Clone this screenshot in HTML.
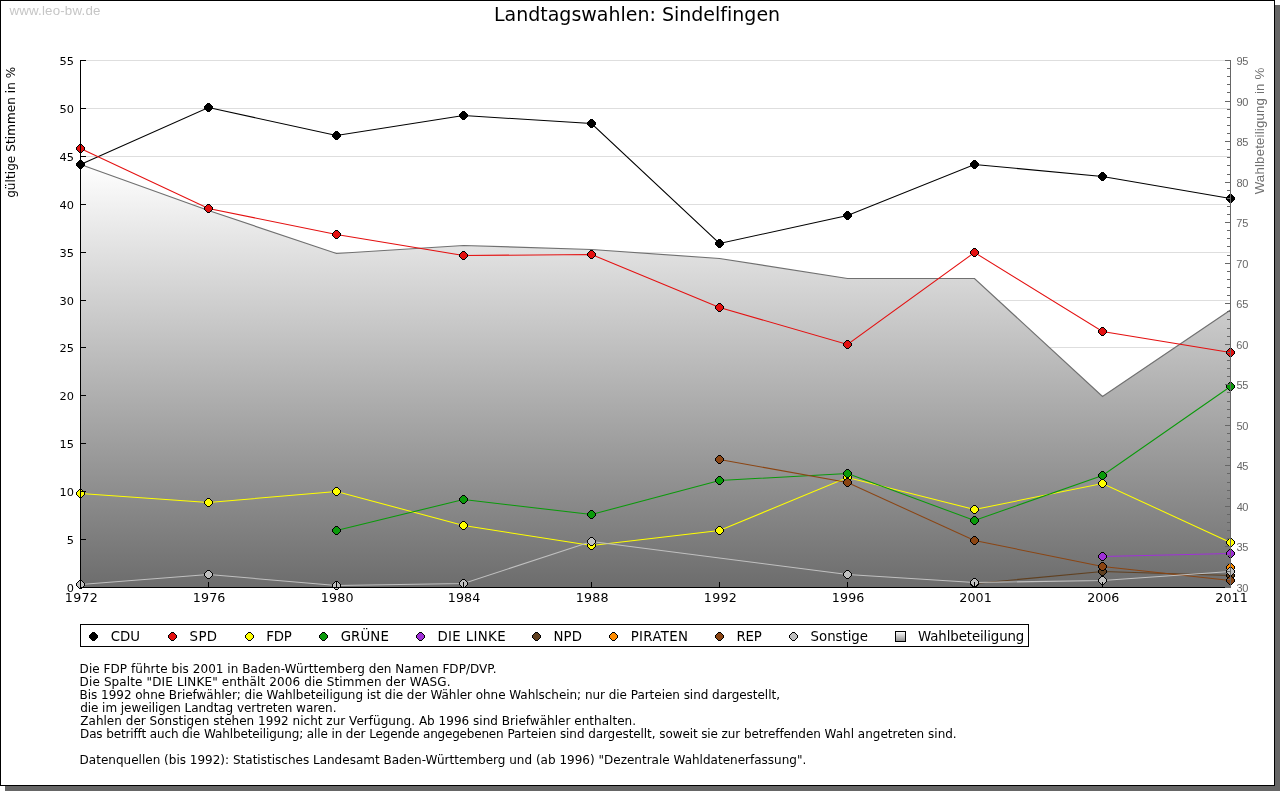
<!DOCTYPE html>
<html lang="de"><head><meta charset="utf-8"><title>Landtagswahlen: Sindelfingen</title>
<style>html,body{margin:0;padding:0;background:#fff;overflow:hidden}svg{display:block}text{font-family:"DejaVu Sans","Liberation Sans",sans-serif;font-variant-ligatures:none}text.l{font-family:"Liberation Sans","DejaVu Sans",sans-serif}</style></head><body>
<svg width="1280" height="791" viewBox="0 0 1280 791">
<defs><linearGradient id="g" gradientUnits="userSpaceOnUse" x1="0" y1="164" x2="0" y2="588"><stop offset="0" stop-color="#ffffff"/><stop offset="1" stop-color="#6c6c6c"/></linearGradient>
<linearGradient id="g2" x1="0" y1="0" x2="0" y2="1"><stop offset="0" stop-color="#ffffff"/><stop offset="1" stop-color="#8c8c8c"/></linearGradient>
<path id="mo" d="M-1.5-4.5h3v1h1v1h1v1h1v3h-1v1h-1v1h-1v1h-3v-1h-1v-1h-1v-1h-1v-3h1v-1h1v-1h1z"/><path id="mi" d="M-1.5-3.5h3v1h1v1h1v3h-1v1h-1v1h-3v-1h-1v-1h-1v-3h1v-1h1z"/></defs>
<rect x="0" y="0" width="1280" height="791" fill="#fff"/>
<rect x="5" y="5" width="1275" height="786" fill="#666"/>
<rect x="0.5" y="0.5" width="1274" height="785" fill="#fff" stroke="#000" stroke-width="1"/>
<text class="l" x="9.42" y="15.3" font-size="13.33" fill="#c6c6c6" textLength="90.97" lengthAdjust="spacing">www.leo-bw.de</text>
<text x="493.94" y="20.5" font-size="19" fill="#000" textLength="286.18" lengthAdjust="spacing">Landtagswahlen: Sindelfingen</text>
<line x1="80" y1="539.5" x2="1231" y2="539.5" stroke="#dedede" stroke-width="1"/>
<line x1="80" y1="491.5" x2="1231" y2="491.5" stroke="#dedede" stroke-width="1"/>
<line x1="80" y1="443.5" x2="1231" y2="443.5" stroke="#dedede" stroke-width="1"/>
<line x1="80" y1="395.5" x2="1231" y2="395.5" stroke="#dedede" stroke-width="1"/>
<line x1="80" y1="347.5" x2="1231" y2="347.5" stroke="#dedede" stroke-width="1"/>
<line x1="80" y1="300.5" x2="1231" y2="300.5" stroke="#dedede" stroke-width="1"/>
<line x1="80" y1="252.5" x2="1231" y2="252.5" stroke="#dedede" stroke-width="1"/>
<line x1="80" y1="204.5" x2="1231" y2="204.5" stroke="#dedede" stroke-width="1"/>
<line x1="80" y1="156.5" x2="1231" y2="156.5" stroke="#dedede" stroke-width="1"/>
<line x1="80" y1="108.5" x2="1231" y2="108.5" stroke="#dedede" stroke-width="1"/>
<line x1="80" y1="60.5" x2="1231" y2="60.5" stroke="#dedede" stroke-width="1"/>
<polygon points="80.5,587.5 80.5,164.5 208.5,210.5 336.5,253.5 463.5,245.5 591.5,249.5 719.5,258.5 847.5,278.5 974.5,278.5 1102.5,396.5 1230.5,310.0 1230.5,587.5" fill="url(#g)"/>
<polyline points="80.5,164.5 208.5,210.5 336.5,253.5 463.5,245.5 591.5,249.5 719.5,258.5 847.5,278.5 974.5,278.5 1102.5,396.5 1230.5,310.0" fill="none" stroke="#707070" stroke-width="1.2"/>
<polyline points="80.5,164.5 208.5,107.5 336.5,135.5 463.5,115.5 591.5,123.5 719.5,243.5 847.5,215.5 974.5,164.5 1102.5,176.5 1230.5,198.5" fill="none" stroke="#000000" stroke-width="1.05"/>
<use href="#mo" x="80.5" y="164.5" fill="#000"/>
<use href="#mo" x="208.5" y="107.5" fill="#000"/>
<use href="#mo" x="336.5" y="135.5" fill="#000"/>
<use href="#mo" x="463.5" y="115.5" fill="#000"/>
<use href="#mo" x="591.5" y="123.5" fill="#000"/>
<use href="#mo" x="719.5" y="243.5" fill="#000"/>
<use href="#mo" x="847.5" y="215.5" fill="#000"/>
<use href="#mo" x="974.5" y="164.5" fill="#000"/>
<use href="#mo" x="1102.5" y="176.5" fill="#000"/>
<use href="#mo" x="1230.5" y="198.5" fill="#000"/>
<polyline points="80.5,148.5 208.5,208.5 336.5,234.5 463.5,255.5 591.5,254.5 719.5,307.5 847.5,344.5 974.5,252.5 1102.5,331.5 1230.5,352.5" fill="none" stroke="#e41010" stroke-width="1.05"/>
<use href="#mo" x="80.5" y="148.5" fill="#000"/><use href="#mi" x="80.5" y="148.5" fill="#e41010"/>
<use href="#mo" x="208.5" y="208.5" fill="#000"/><use href="#mi" x="208.5" y="208.5" fill="#e41010"/>
<use href="#mo" x="336.5" y="234.5" fill="#000"/><use href="#mi" x="336.5" y="234.5" fill="#e41010"/>
<use href="#mo" x="463.5" y="255.5" fill="#000"/><use href="#mi" x="463.5" y="255.5" fill="#e41010"/>
<use href="#mo" x="591.5" y="254.5" fill="#000"/><use href="#mi" x="591.5" y="254.5" fill="#e41010"/>
<use href="#mo" x="719.5" y="307.5" fill="#000"/><use href="#mi" x="719.5" y="307.5" fill="#e41010"/>
<use href="#mo" x="847.5" y="344.5" fill="#000"/><use href="#mi" x="847.5" y="344.5" fill="#e41010"/>
<use href="#mo" x="974.5" y="252.5" fill="#000"/><use href="#mi" x="974.5" y="252.5" fill="#e41010"/>
<use href="#mo" x="1102.5" y="331.5" fill="#000"/><use href="#mi" x="1102.5" y="331.5" fill="#e41010"/>
<use href="#mo" x="1230.5" y="352.5" fill="#000"/><use href="#mi" x="1230.5" y="352.5" fill="#e41010"/>
<polyline points="80.5,493.5 208.5,502.5 336.5,491.5 463.5,525.5 591.5,545.5 719.5,530.5 847.5,477.5 974.5,509.5 1102.5,483.5 1230.5,542.5" fill="none" stroke="#ffff00" stroke-width="1.05"/>
<use href="#mo" x="80.5" y="493.5" fill="#000"/><use href="#mi" x="80.5" y="493.5" fill="#ffff00"/>
<use href="#mo" x="208.5" y="502.5" fill="#000"/><use href="#mi" x="208.5" y="502.5" fill="#ffff00"/>
<use href="#mo" x="336.5" y="491.5" fill="#000"/><use href="#mi" x="336.5" y="491.5" fill="#ffff00"/>
<use href="#mo" x="463.5" y="525.5" fill="#000"/><use href="#mi" x="463.5" y="525.5" fill="#ffff00"/>
<use href="#mo" x="591.5" y="545.5" fill="#000"/><use href="#mi" x="591.5" y="545.5" fill="#ffff00"/>
<use href="#mo" x="719.5" y="530.5" fill="#000"/><use href="#mi" x="719.5" y="530.5" fill="#ffff00"/>
<use href="#mo" x="847.5" y="477.5" fill="#000"/><use href="#mi" x="847.5" y="477.5" fill="#ffff00"/>
<use href="#mo" x="974.5" y="509.5" fill="#000"/><use href="#mi" x="974.5" y="509.5" fill="#ffff00"/>
<use href="#mo" x="1102.5" y="483.5" fill="#000"/><use href="#mi" x="1102.5" y="483.5" fill="#ffff00"/>
<use href="#mo" x="1230.5" y="542.5" fill="#000"/><use href="#mi" x="1230.5" y="542.5" fill="#ffff00"/>
<polyline points="336.5,530.5 463.5,499.5 591.5,514.5 719.5,480.5 847.5,473.5 974.5,520.5 1102.5,475.5 1230.5,386.5" fill="none" stroke="#0a9a0a" stroke-width="1.05"/>
<use href="#mo" x="336.5" y="530.5" fill="#000"/><use href="#mi" x="336.5" y="530.5" fill="#0a9a0a"/>
<use href="#mo" x="463.5" y="499.5" fill="#000"/><use href="#mi" x="463.5" y="499.5" fill="#0a9a0a"/>
<use href="#mo" x="591.5" y="514.5" fill="#000"/><use href="#mi" x="591.5" y="514.5" fill="#0a9a0a"/>
<use href="#mo" x="719.5" y="480.5" fill="#000"/><use href="#mi" x="719.5" y="480.5" fill="#0a9a0a"/>
<use href="#mo" x="847.5" y="473.5" fill="#000"/><use href="#mi" x="847.5" y="473.5" fill="#0a9a0a"/>
<use href="#mo" x="974.5" y="520.5" fill="#000"/><use href="#mi" x="974.5" y="520.5" fill="#0a9a0a"/>
<use href="#mo" x="1102.5" y="475.5" fill="#000"/><use href="#mi" x="1102.5" y="475.5" fill="#0a9a0a"/>
<use href="#mo" x="1230.5" y="386.5" fill="#000"/><use href="#mi" x="1230.5" y="386.5" fill="#0a9a0a"/>
<polyline points="1102.5,556.5 1230.5,553.5" fill="none" stroke="#a030d8" stroke-width="1.05"/>
<use href="#mo" x="1102.5" y="556.5" fill="#000"/><use href="#mi" x="1102.5" y="556.5" fill="#a030d8"/>
<use href="#mo" x="1230.5" y="553.5" fill="#000"/><use href="#mi" x="1230.5" y="553.5" fill="#a030d8"/>
<polyline points="974.5,583.5 1102.5,571.5 1230.5,575.5" fill="none" stroke="#604020" stroke-width="1.05"/>
<use href="#mo" x="974.5" y="583.5" fill="#000"/><use href="#mi" x="974.5" y="583.5" fill="#604020"/>
<use href="#mo" x="1102.5" y="571.5" fill="#000"/><use href="#mi" x="1102.5" y="571.5" fill="#604020"/>
<use href="#mo" x="1230.5" y="575.5" fill="#000"/><use href="#mi" x="1230.5" y="575.5" fill="#604020"/>
<use href="#mo" x="1230.5" y="567.5" fill="#000"/><use href="#mi" x="1230.5" y="567.5" fill="#ff8c00"/>
<polyline points="719.5,459.5 847.5,482.5 974.5,540.5 1102.5,566.5 1230.5,580.5" fill="none" stroke="#8b4513" stroke-width="1.05"/>
<use href="#mo" x="719.5" y="459.5" fill="#000"/><use href="#mi" x="719.5" y="459.5" fill="#8b4513"/>
<use href="#mo" x="847.5" y="482.5" fill="#000"/><use href="#mi" x="847.5" y="482.5" fill="#8b4513"/>
<use href="#mo" x="974.5" y="540.5" fill="#000"/><use href="#mi" x="974.5" y="540.5" fill="#8b4513"/>
<use href="#mo" x="1102.5" y="566.5" fill="#000"/><use href="#mi" x="1102.5" y="566.5" fill="#8b4513"/>
<use href="#mo" x="1230.5" y="580.5" fill="#000"/><use href="#mi" x="1230.5" y="580.5" fill="#8b4513"/>
<polyline points="80.5,584.5 208.5,574.5 336.5,585.5 463.5,583.5 591.5,541.5 847.5,574.5 974.5,582.5 1102.5,580.5 1230.5,571.5" fill="none" stroke="#c0c0c0" stroke-width="1.05"/>
<use href="#mo" x="80.5" y="584.5" fill="#000"/><use href="#mi" x="80.5" y="584.5" fill="#c0c0c0"/>
<use href="#mo" x="208.5" y="574.5" fill="#000"/><use href="#mi" x="208.5" y="574.5" fill="#c0c0c0"/>
<use href="#mo" x="336.5" y="585.5" fill="#000"/><use href="#mi" x="336.5" y="585.5" fill="#c0c0c0"/>
<use href="#mo" x="463.5" y="583.5" fill="#000"/><use href="#mi" x="463.5" y="583.5" fill="#c0c0c0"/>
<use href="#mo" x="591.5" y="541.5" fill="#000"/><use href="#mi" x="591.5" y="541.5" fill="#c0c0c0"/>
<use href="#mo" x="847.5" y="574.5" fill="#000"/><use href="#mi" x="847.5" y="574.5" fill="#c0c0c0"/>
<use href="#mo" x="974.5" y="582.5" fill="#000"/><use href="#mi" x="974.5" y="582.5" fill="#c0c0c0"/>
<use href="#mo" x="1102.5" y="580.5" fill="#000"/><use href="#mi" x="1102.5" y="580.5" fill="#c0c0c0"/>
<use href="#mo" x="1230.5" y="571.5" fill="#000"/><use href="#mi" x="1230.5" y="571.5" fill="#c0c0c0"/>
<line x1="80.5" y1="582" x2="80.5" y2="588" stroke="#000" stroke-width="1"/>
<line x1="208.5" y1="582" x2="208.5" y2="588" stroke="#000" stroke-width="1"/>
<line x1="336.5" y1="582" x2="336.5" y2="588" stroke="#000" stroke-width="1"/>
<line x1="463.5" y1="582" x2="463.5" y2="588" stroke="#000" stroke-width="1"/>
<line x1="591.5" y1="582" x2="591.5" y2="588" stroke="#000" stroke-width="1"/>
<line x1="719.5" y1="582" x2="719.5" y2="588" stroke="#000" stroke-width="1"/>
<line x1="847.5" y1="582" x2="847.5" y2="588" stroke="#000" stroke-width="1"/>
<line x1="974.5" y1="582" x2="974.5" y2="588" stroke="#000" stroke-width="1"/>
<line x1="1102.5" y1="582" x2="1102.5" y2="588" stroke="#000" stroke-width="1"/>
<line x1="1230.5" y1="582" x2="1230.5" y2="588" stroke="#000" stroke-width="1"/>
<line x1="80.5" y1="60" x2="80.5" y2="588" stroke="#000" stroke-width="1"/>
<line x1="80" y1="587.5" x2="1231" y2="587.5" stroke="#000" stroke-width="1"/>
<line x1="1230.5" y1="60" x2="1230.5" y2="588" stroke="#666" stroke-width="1"/>
<line x1="80" y1="587.5" x2="86" y2="587.5" stroke="#000" stroke-width="1"/>
<text x="74" y="592.1" font-size="11.33" text-anchor="end" fill="#000">0</text>
<line x1="80" y1="539.5" x2="86" y2="539.5" stroke="#000" stroke-width="1"/>
<text x="74" y="544.1" font-size="11.33" text-anchor="end" fill="#000">5</text>
<line x1="80" y1="491.5" x2="86" y2="491.5" stroke="#000" stroke-width="1"/>
<text x="74" y="496.1" font-size="11.33" text-anchor="end" fill="#000">10</text>
<line x1="80" y1="443.5" x2="86" y2="443.5" stroke="#000" stroke-width="1"/>
<text x="74" y="448.1" font-size="11.33" text-anchor="end" fill="#000">15</text>
<line x1="80" y1="395.5" x2="86" y2="395.5" stroke="#000" stroke-width="1"/>
<text x="74" y="400.1" font-size="11.33" text-anchor="end" fill="#000">20</text>
<line x1="80" y1="347.5" x2="86" y2="347.5" stroke="#000" stroke-width="1"/>
<text x="74" y="352.1" font-size="11.33" text-anchor="end" fill="#000">25</text>
<line x1="80" y1="300.5" x2="86" y2="300.5" stroke="#000" stroke-width="1"/>
<text x="74" y="305.1" font-size="11.33" text-anchor="end" fill="#000">30</text>
<line x1="80" y1="252.5" x2="86" y2="252.5" stroke="#000" stroke-width="1"/>
<text x="74" y="257.1" font-size="11.33" text-anchor="end" fill="#000">35</text>
<line x1="80" y1="204.5" x2="86" y2="204.5" stroke="#000" stroke-width="1"/>
<text x="74" y="209.1" font-size="11.33" text-anchor="end" fill="#000">40</text>
<line x1="80" y1="156.5" x2="86" y2="156.5" stroke="#000" stroke-width="1"/>
<text x="74" y="161.1" font-size="11.33" text-anchor="end" fill="#000">45</text>
<line x1="80" y1="108.5" x2="86" y2="108.5" stroke="#000" stroke-width="1"/>
<text x="74" y="113.1" font-size="11.33" text-anchor="end" fill="#000">50</text>
<line x1="80" y1="60.5" x2="86" y2="60.5" stroke="#000" stroke-width="1"/>
<text x="74" y="65.1" font-size="11.33" text-anchor="end" fill="#000">55</text>
<line x1="1225" y1="587.5" x2="1231" y2="587.5" stroke="#666" stroke-width="1"/>
<text class="l" x="1236.48" y="591.9" font-size="11" fill="#666" textLength="11.95" lengthAdjust="spacing">30</text>
<line x1="1227" y1="579.5" x2="1231" y2="579.5" stroke="#666" stroke-width="1"/>
<line x1="1227" y1="571.5" x2="1231" y2="571.5" stroke="#666" stroke-width="1"/>
<line x1="1227" y1="563.5" x2="1231" y2="563.5" stroke="#666" stroke-width="1"/>
<line x1="1227" y1="555.5" x2="1231" y2="555.5" stroke="#666" stroke-width="1"/>
<line x1="1225" y1="546.5" x2="1231" y2="546.5" stroke="#666" stroke-width="1"/>
<text class="l" x="1236.48" y="550.9" font-size="11" fill="#666" textLength="11.98" lengthAdjust="spacing">35</text>
<line x1="1227" y1="538.5" x2="1231" y2="538.5" stroke="#666" stroke-width="1"/>
<line x1="1227" y1="530.5" x2="1231" y2="530.5" stroke="#666" stroke-width="1"/>
<line x1="1227" y1="522.5" x2="1231" y2="522.5" stroke="#666" stroke-width="1"/>
<line x1="1227" y1="514.5" x2="1231" y2="514.5" stroke="#666" stroke-width="1"/>
<line x1="1225" y1="506.5" x2="1231" y2="506.5" stroke="#666" stroke-width="1"/>
<text class="l" x="1236.65" y="510.9" font-size="11" fill="#666" textLength="11.78" lengthAdjust="spacing">40</text>
<line x1="1227" y1="498.5" x2="1231" y2="498.5" stroke="#666" stroke-width="1"/>
<line x1="1227" y1="490.5" x2="1231" y2="490.5" stroke="#666" stroke-width="1"/>
<line x1="1227" y1="482.5" x2="1231" y2="482.5" stroke="#666" stroke-width="1"/>
<line x1="1227" y1="473.5" x2="1231" y2="473.5" stroke="#666" stroke-width="1"/>
<line x1="1225" y1="465.5" x2="1231" y2="465.5" stroke="#666" stroke-width="1"/>
<text class="l" x="1236.65" y="469.9" font-size="11" fill="#666" textLength="11.81" lengthAdjust="spacing">45</text>
<line x1="1227" y1="457.5" x2="1231" y2="457.5" stroke="#666" stroke-width="1"/>
<line x1="1227" y1="449.5" x2="1231" y2="449.5" stroke="#666" stroke-width="1"/>
<line x1="1227" y1="441.5" x2="1231" y2="441.5" stroke="#666" stroke-width="1"/>
<line x1="1227" y1="433.5" x2="1231" y2="433.5" stroke="#666" stroke-width="1"/>
<line x1="1225" y1="425.5" x2="1231" y2="425.5" stroke="#666" stroke-width="1"/>
<text class="l" x="1236.46" y="429.9" font-size="11" fill="#666" textLength="11.97" lengthAdjust="spacing">50</text>
<line x1="1227" y1="417.5" x2="1231" y2="417.5" stroke="#666" stroke-width="1"/>
<line x1="1227" y1="409.5" x2="1231" y2="409.5" stroke="#666" stroke-width="1"/>
<line x1="1227" y1="401.5" x2="1231" y2="401.5" stroke="#666" stroke-width="1"/>
<line x1="1227" y1="392.5" x2="1231" y2="392.5" stroke="#666" stroke-width="1"/>
<line x1="1225" y1="384.5" x2="1231" y2="384.5" stroke="#666" stroke-width="1"/>
<text class="l" x="1236.46" y="388.9" font-size="11" fill="#666" textLength="12.00" lengthAdjust="spacing">55</text>
<line x1="1227" y1="376.5" x2="1231" y2="376.5" stroke="#666" stroke-width="1"/>
<line x1="1227" y1="368.5" x2="1231" y2="368.5" stroke="#666" stroke-width="1"/>
<line x1="1227" y1="360.5" x2="1231" y2="360.5" stroke="#666" stroke-width="1"/>
<line x1="1227" y1="352.5" x2="1231" y2="352.5" stroke="#666" stroke-width="1"/>
<line x1="1225" y1="344.5" x2="1231" y2="344.5" stroke="#666" stroke-width="1"/>
<text class="l" x="1236.34" y="348.9" font-size="11" fill="#666" textLength="12.09" lengthAdjust="spacing">60</text>
<line x1="1227" y1="336.5" x2="1231" y2="336.5" stroke="#666" stroke-width="1"/>
<line x1="1227" y1="328.5" x2="1231" y2="328.5" stroke="#666" stroke-width="1"/>
<line x1="1227" y1="319.5" x2="1231" y2="319.5" stroke="#666" stroke-width="1"/>
<line x1="1227" y1="311.5" x2="1231" y2="311.5" stroke="#666" stroke-width="1"/>
<line x1="1225" y1="303.5" x2="1231" y2="303.5" stroke="#666" stroke-width="1"/>
<text class="l" x="1236.34" y="307.9" font-size="11" fill="#666" textLength="12.12" lengthAdjust="spacing">65</text>
<line x1="1227" y1="295.5" x2="1231" y2="295.5" stroke="#666" stroke-width="1"/>
<line x1="1227" y1="287.5" x2="1231" y2="287.5" stroke="#666" stroke-width="1"/>
<line x1="1227" y1="279.5" x2="1231" y2="279.5" stroke="#666" stroke-width="1"/>
<line x1="1227" y1="271.5" x2="1231" y2="271.5" stroke="#666" stroke-width="1"/>
<line x1="1225" y1="263.5" x2="1231" y2="263.5" stroke="#666" stroke-width="1"/>
<text class="l" x="1236.34" y="267.9" font-size="11" fill="#666" textLength="12.09" lengthAdjust="spacing">70</text>
<line x1="1227" y1="255.5" x2="1231" y2="255.5" stroke="#666" stroke-width="1"/>
<line x1="1227" y1="246.5" x2="1231" y2="246.5" stroke="#666" stroke-width="1"/>
<line x1="1227" y1="238.5" x2="1231" y2="238.5" stroke="#666" stroke-width="1"/>
<line x1="1227" y1="230.5" x2="1231" y2="230.5" stroke="#666" stroke-width="1"/>
<line x1="1225" y1="222.5" x2="1231" y2="222.5" stroke="#666" stroke-width="1"/>
<text class="l" x="1236.34" y="226.9" font-size="11" fill="#666" textLength="12.13" lengthAdjust="spacing">75</text>
<line x1="1227" y1="214.5" x2="1231" y2="214.5" stroke="#666" stroke-width="1"/>
<line x1="1227" y1="206.5" x2="1231" y2="206.5" stroke="#666" stroke-width="1"/>
<line x1="1227" y1="198.5" x2="1231" y2="198.5" stroke="#666" stroke-width="1"/>
<line x1="1227" y1="190.5" x2="1231" y2="190.5" stroke="#666" stroke-width="1"/>
<line x1="1225" y1="182.5" x2="1231" y2="182.5" stroke="#666" stroke-width="1"/>
<text class="l" x="1236.42" y="186.9" font-size="11" fill="#666" textLength="12.01" lengthAdjust="spacing">80</text>
<line x1="1227" y1="174.5" x2="1231" y2="174.5" stroke="#666" stroke-width="1"/>
<line x1="1227" y1="165.5" x2="1231" y2="165.5" stroke="#666" stroke-width="1"/>
<line x1="1227" y1="157.5" x2="1231" y2="157.5" stroke="#666" stroke-width="1"/>
<line x1="1227" y1="149.5" x2="1231" y2="149.5" stroke="#666" stroke-width="1"/>
<line x1="1225" y1="141.5" x2="1231" y2="141.5" stroke="#666" stroke-width="1"/>
<text class="l" x="1236.42" y="145.9" font-size="11" fill="#666" textLength="12.04" lengthAdjust="spacing">85</text>
<line x1="1227" y1="133.5" x2="1231" y2="133.5" stroke="#666" stroke-width="1"/>
<line x1="1227" y1="125.5" x2="1231" y2="125.5" stroke="#666" stroke-width="1"/>
<line x1="1227" y1="117.5" x2="1231" y2="117.5" stroke="#666" stroke-width="1"/>
<line x1="1227" y1="109.5" x2="1231" y2="109.5" stroke="#666" stroke-width="1"/>
<line x1="1225" y1="101.5" x2="1231" y2="101.5" stroke="#666" stroke-width="1"/>
<text class="l" x="1236.38" y="105.9" font-size="11" fill="#666" textLength="12.05" lengthAdjust="spacing">90</text>
<line x1="1227" y1="92.5" x2="1231" y2="92.5" stroke="#666" stroke-width="1"/>
<line x1="1227" y1="84.5" x2="1231" y2="84.5" stroke="#666" stroke-width="1"/>
<line x1="1227" y1="76.5" x2="1231" y2="76.5" stroke="#666" stroke-width="1"/>
<line x1="1227" y1="68.5" x2="1231" y2="68.5" stroke="#666" stroke-width="1"/>
<line x1="1225" y1="60.5" x2="1231" y2="60.5" stroke="#666" stroke-width="1"/>
<text class="l" x="1236.38" y="64.9" font-size="11" fill="#666" textLength="12.08" lengthAdjust="spacing">95</text>
<text x="64.81" y="602" font-size="12.67" fill="#000" textLength="33.06" lengthAdjust="spacing">1972</text>
<text x="192.81" y="602" font-size="12.67" fill="#000" textLength="32.59" lengthAdjust="spacing">1976</text>
<text x="320.81" y="602" font-size="12.67" fill="#000" textLength="32.63" lengthAdjust="spacing">1980</text>
<text x="447.81" y="602" font-size="12.67" fill="#000" textLength="32.50" lengthAdjust="spacing">1984</text>
<text x="575.81" y="602" font-size="12.67" fill="#000" textLength="32.66" lengthAdjust="spacing">1988</text>
<text x="703.81" y="602" font-size="12.67" fill="#000" textLength="33.06" lengthAdjust="spacing">1992</text>
<text x="831.81" y="602" font-size="12.67" fill="#000" textLength="32.59" lengthAdjust="spacing">1996</text>
<text x="959.27" y="602" font-size="12.67" fill="#000" textLength="32.50" lengthAdjust="spacing">2001</text>
<text x="1087.27" y="602" font-size="12.67" fill="#000" textLength="32.13" lengthAdjust="spacing">2006</text>
<text x="1215.27" y="602" font-size="12.67" fill="#000" textLength="32.50" lengthAdjust="spacing">2011</text>
<text transform="translate(15.4,197.2) rotate(-90)" x="-0.66" y="0" font-size="12" fill="#000" textLength="131.02" lengthAdjust="spacing">gültige Stimmen in %</text>
<text class="l" transform="translate(1263.9,194.3) rotate(-90)" x="-0.06" y="0" font-size="13.33" fill="#707070" textLength="126.73" lengthAdjust="spacing">Wahlbeteiligung in %</text>
<rect x="80.5" y="624.5" width="948" height="22" fill="#fff" stroke="#000" stroke-width="1"/>
<use href="#mo" x="93.5" y="636.5" fill="#000"/>
<text x="110.65" y="641" font-size="13.33" fill="#000" textLength="29.41" lengthAdjust="spacing">CDU</text>
<use href="#mo" x="172.5" y="636.5" fill="#000"/><use href="#mi" x="172.5" y="636.5" fill="#e41010"/>
<text x="189.62" y="641" font-size="13.33" fill="#000" textLength="27.37" lengthAdjust="spacing">SPD</text>
<use href="#mo" x="249.5" y="636.5" fill="#000"/><use href="#mi" x="249.5" y="636.5" fill="#ffff00"/>
<text x="266.19" y="641" font-size="13.33" fill="#000" textLength="25.66" lengthAdjust="spacing">FDP</text>
<use href="#mo" x="323.5" y="636.5" fill="#000"/><use href="#mi" x="323.5" y="636.5" fill="#0a9a0a"/>
<text x="340.65" y="641" font-size="13.33" fill="#000" textLength="48.20" lengthAdjust="spacing">GRÜNE</text>
<use href="#mo" x="420.5" y="636.5" fill="#000"/><use href="#mi" x="420.5" y="636.5" fill="#a030d8"/>
<text x="437.44" y="641" font-size="13.33" fill="#000" textLength="68.11" lengthAdjust="spacing">DIE LINKE</text>
<use href="#mo" x="536.5" y="636.5" fill="#000"/><use href="#mi" x="536.5" y="636.5" fill="#604020"/>
<text x="553.39" y="641" font-size="13.33" fill="#000" textLength="28.65" lengthAdjust="spacing">NPD</text>
<use href="#mo" x="613.5" y="636.5" fill="#000"/><use href="#mi" x="613.5" y="636.5" fill="#ff8c00"/>
<text x="630.69" y="641" font-size="13.33" fill="#000" textLength="57.32" lengthAdjust="spacing">PIRATEN</text>
<use href="#mo" x="719.5" y="636.5" fill="#000"/><use href="#mi" x="719.5" y="636.5" fill="#8b4513"/>
<text x="736.49" y="641" font-size="13.33" fill="#000" textLength="25.36" lengthAdjust="spacing">REP</text>
<use href="#mo" x="793.5" y="636.5" fill="#000"/><use href="#mi" x="793.5" y="636.5" fill="#c0c0c0"/>
<text x="810.62" y="641" font-size="13.33" fill="#000" textLength="57.39" lengthAdjust="spacing">Sonstige</text>
<rect x="895.5" y="631.5" width="10" height="10" fill="url(#g2)" stroke="#000" stroke-width="1"/>
<text x="918.06" y="641" font-size="13.33" fill="#000" textLength="106.25" lengthAdjust="spacing">Wahlbeteiligung</text>
<text x="79.62" y="672.5" font-size="12" fill="#000" textLength="416.97" lengthAdjust="spacing">Die FDP führte bis 2001 in Baden-Württemberg den Namen FDP/DVP.</text>
<text x="79.62" y="685.5" font-size="12" fill="#000" textLength="370.87" lengthAdjust="spacing">Die Spalte &quot;DIE LINKE&quot; enthält 2006 die Stimmen der WASG.</text>
<text x="79.62" y="698.5" font-size="12" fill="#000" textLength="700.35" lengthAdjust="spacing">Bis 1992 ohne Briefwähler; die Wahlbeteiligung ist die der Wähler ohne Wahlschein; nur die Parteien sind dargestellt,</text>
<text x="80.14" y="711.5" font-size="12" fill="#000" textLength="256.36" lengthAdjust="spacing">die im jeweiligen Landtag vertreten waren.</text>
<text x="80.26" y="724.5" font-size="12" fill="#000" textLength="555.73" lengthAdjust="spacing">Zahlen der Sonstigen stehen 1992 nicht zur Verfügung. Ab 1996 sind Briefwähler enthalten.</text>
<text y="737.5" font-size="12" fill="#000"><tspan x="80.02" textLength="120.18" lengthAdjust="spacing">Das betrifft auch die</tspan> <tspan x="204.00" textLength="161.52" lengthAdjust="spacing">Wahlbeteiligung; alle in der</tspan> <tspan x="369.32" textLength="134.30" lengthAdjust="spacing">Legende angegebenen</tspan> <tspan x="507.42" textLength="148.13" lengthAdjust="spacing">Parteien sind dargestellt,</tspan> <tspan x="659.35" textLength="80.76" lengthAdjust="spacing">soweit sie zur</tspan> <tspan x="743.91" textLength="76.89" lengthAdjust="spacing">betreffenden</tspan> <tspan x="824.60" textLength="132.09" lengthAdjust="spacing">Wahl angetreten sind.</tspan></text>
<text x="79.62" y="763.5" font-size="12" fill="#000" textLength="726.67" lengthAdjust="spacing">Datenquellen (bis 1992): Statistisches Landesamt Baden-Württemberg und (ab 1996) &quot;Dezentrale Wahldatenerfassung&quot;.</text>
</svg></body></html>
